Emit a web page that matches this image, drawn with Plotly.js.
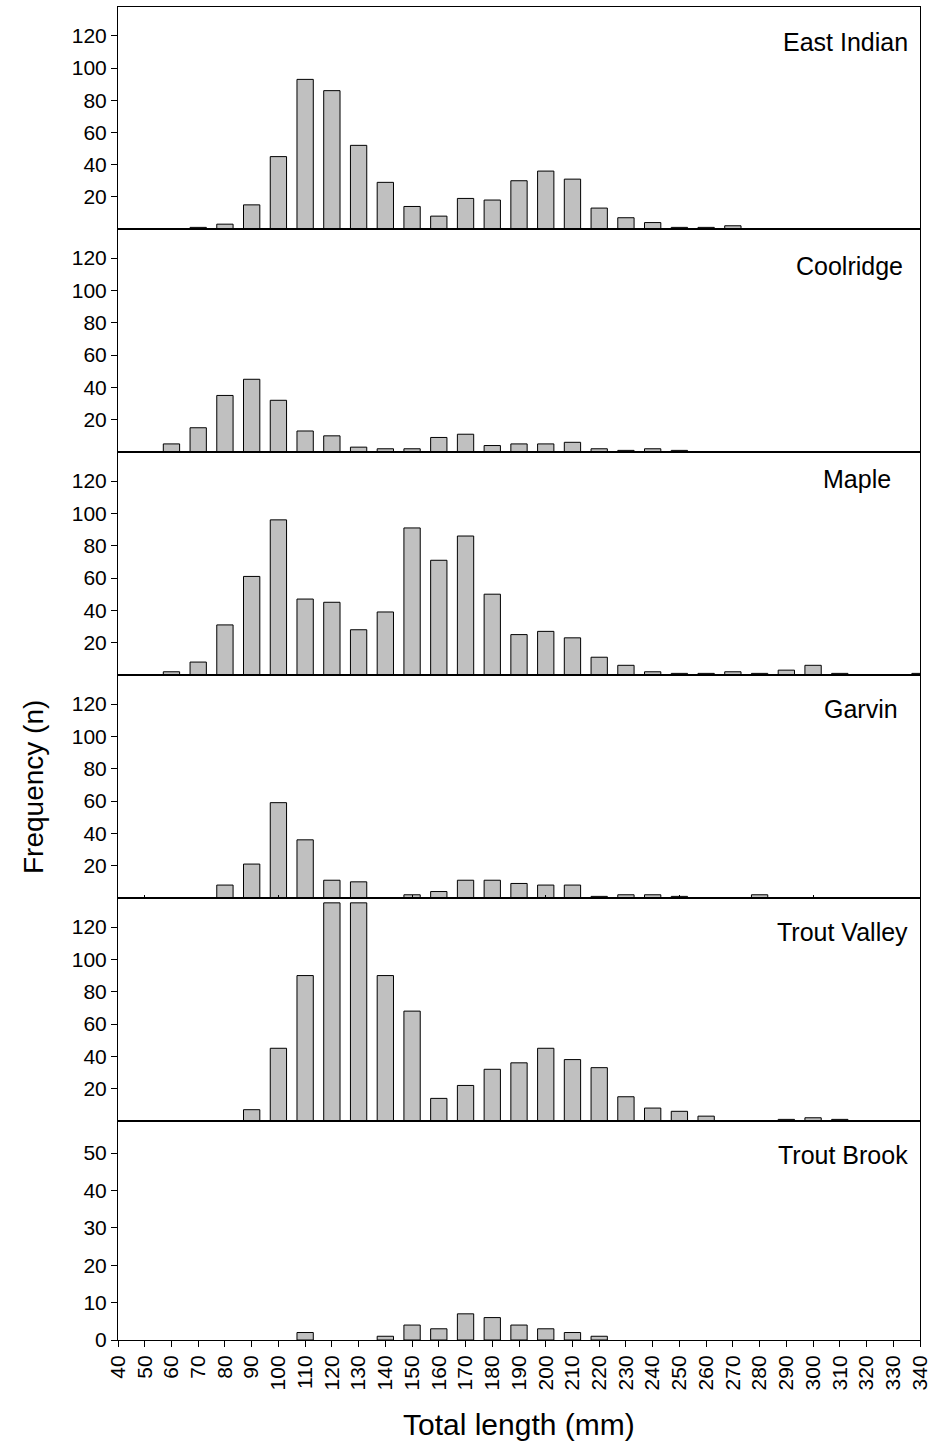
<!DOCTYPE html>
<html>
<head>
<meta charset="utf-8">
<script src="https://cdn.plot.ly/plotly-3.0.1.min.js"></script>
<style>html,body{margin:0;padding:0;background:#fff;}#chart{width:932px;height:1445px;}</style>
</head>
<body>
<div id="chart"></div>
<script>
// Bin centres (total length, mm)
const lengths = [40,50,60,70,80,90,100,110,120,130,140,150,160,170,180,190,200,210,220,230,240,250,260,270,280,290,300,310,320,330,340];
const siteNames = ["East Indian","Coolridge","Maple","Garvin","Trout Valley","Trout Brook"];

// Frequencies per site, one value per bin in `lengths`
const eastIndian  = [0,0,0,1,3,15,45,93,86,52,29,14,8,19,18,30,36,31,13,7,4,1,1,2,0,0,0,0,0,0,0];
const coolridge   = [0,0,5,15,35,45,32,13,10,3,2,2,9,11,4,5,5,6,2,1,2,1,0,0,0,0,0,0,0,0,0];
const maple       = [0,0,2,8,31,61,96,47,45,28,39,91,71,86,50,25,27,23,11,6,2,1,1,2,1,3,6,1,0,0,1];
const garvin      = [0,0,0,0,8,21,59,36,11,10,0,2,4,11,11,9,8,8,1,2,2,1,0,0,2,0,0,0,0,0,0];
const troutValley = [0,0,0,0,0,7,45,90,135,135,90,68,14,22,32,36,45,38,33,15,8,6,3,0,0,1,2,1,0,0,0];
const troutBrook  = [0,0,0,0,0,0,0,2,0,0,1,4,3,7,6,4,3,2,1,0,0,0,0,0,0,0,0,0,0,0,0];

const series = [eastIndian, coolridge, maple, garvin, troutValley, troutBrook];
const yTicks = [[20,40,60,80,100,120],[20,40,60,80,100,120],[20,40,60,80,100,120],[20,40,60,80,100,120],[20,40,60,80,100,120],[0,10,20,30,40,50]];
const xTickVals = lengths;
const xTickText = lengths.map(String);

const H = 1445, W = 932;
const plotL = 118, plotR = 920;
const bounds = [7, 229, 452, 675, 898, 1121, 1340];
const yMax = [138, 138, 138, 138, 138, 58.6];
const labelOffset = [35, 37, 27, 34, 34, 34];
const labelRight = [910, 905, 893, 900, 910, 910];

const FONT = "Arial, 'Liberation Sans', sans-serif";
const data = [];
const layout = {
  width: W, height: H,
  margin: {l: plotL, r: W - plotR, t: bounds[0], b: H - bounds[6]},
  paper_bgcolor: '#fff', plot_bgcolor: '#fff',
  showlegend: false,
  bargap: 0.39,
  font: {family: FONT, color: '#000', size: 21},
  annotations: []
};

for (let i = 0; i < 6; i++) {
  const n = i + 1;
  const xa = n === 1 ? 'x' : 'x' + n;
  const ya = n === 1 ? 'y' : 'y' + n;
  data.push({
    type: 'bar', x: lengths, y: series[i].map(v => v === 0 ? null : v), xaxis: xa, yaxis: ya,
    marker: {color: '#c0c0c0', line: {color: '#000', width: 1}},
    hoverinfo: 'x+y'
  });
  const top = bounds[i], bot = bounds[i + 1];
  const d0 = (bounds[6] - bot) / (bounds[6] - bounds[0]);
  const d1 = (bounds[6] - top) / (bounds[6] - bounds[0]);
  const isLast = i === 5;
  layout[n === 1 ? 'xaxis' : 'xaxis' + n] = {
    anchor: ya, domain: [0, 1], range: [40, 340], matches: n === 1 ? undefined : 'x',
    showline: true, linecolor: '#000', linewidth: 1, mirror: true,
    showgrid: false, zeroline: false,
    tickmode: 'array', tickvals: isLast ? xTickVals : [50,100,150,200,250,300],
    ticktext: isLast ? xTickText : undefined,
    showticklabels: isLast,
    ticks: isLast ? 'outside' : (i === 3 ? 'inside' : ''),
    ticklen: isLast ? 6 : 3, tickcolor: '#000', tickwidth: 1,
    tickangle: -90,
    tickfont: {family: FONT, size: 21, color: '#000'}
  };
  layout[n === 1 ? 'yaxis' : 'yaxis' + n] = {
    anchor: xa, domain: [d0, d1], range: [0, yMax[i]],
    showline: true, linecolor: '#000', linewidth: 1, mirror: true,
    showgrid: false, zeroline: false,
    tickmode: 'array', tickvals: yTicks[i],
    ticks: 'outside', ticklen: 6, tickcolor: '#000', tickwidth: 1,
    tickfont: {family: FONT, size: 21, color: '#000'}
  };
  layout.annotations.push({
    text: siteNames[i], xref: 'paper', yref: 'paper',
    x: (labelRight[i] - plotL) / (plotR - plotL),
    y: (bounds[6] - (top + labelOffset[i])) / (bounds[6] - bounds[0]),
    xanchor: 'right', yanchor: 'middle', showarrow: false,
    font: {family: FONT, size: 25, color: '#000'}
  });
}

layout.annotations.push({
  text: 'Frequency (n)', xref: 'paper', yref: 'paper', textangle: -90,
  x: (33 - plotL) / (plotR - plotL), y: (bounds[6] - 787) / (bounds[6] - bounds[0]),
  xanchor: 'center', yanchor: 'middle', showarrow: false,
  font: {family: FONT, size: 28, color: '#000'}
});
layout.annotations.push({
  text: 'Total length (mm)', xref: 'paper', yref: 'paper',
  x: (519 - plotL) / (plotR - plotL), y: (bounds[6] - 1424) / (bounds[6] - bounds[0]),
  xanchor: 'center', yanchor: 'middle', showarrow: false,
  font: {family: FONT, size: 30, color: '#000'}
});

Plotly.newPlot('chart', data, layout, {displayModeBar: false, staticPlot: true});
</script>
</body>
</html>
